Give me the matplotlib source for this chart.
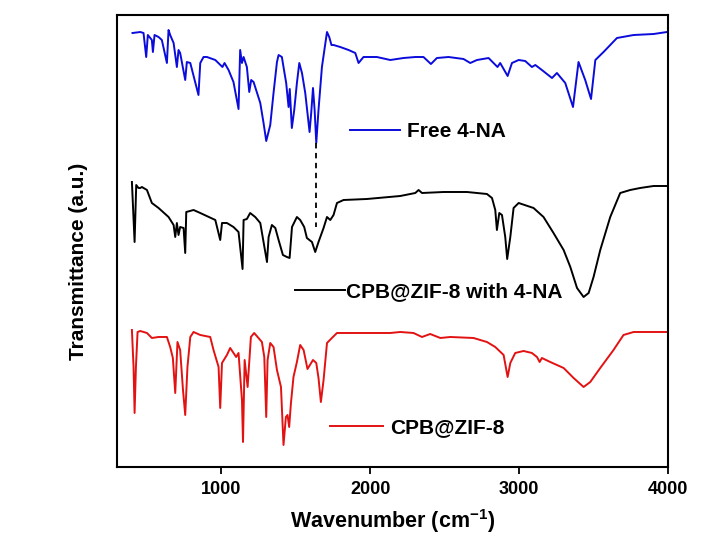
import matplotlib
matplotlib.use("Agg")
import matplotlib.pyplot as plt
from matplotlib.lines import Line2D

plt.rcParams['font.family'] = ['Liberation Sans', 'DejaVu Sans']
plt.rcParams['font.weight'] = 'bold'
plt.rcParams['mathtext.fontset'] = 'custom'
plt.rcParams['mathtext.rm'] = 'Liberation Sans:bold'
plt.rcParams['mathtext.bf'] = 'Liberation Sans:bold'
plt.rcParams['mathtext.it'] = 'Liberation Sans:bold'

# ---- data (wavenumber cm^-1, transmittance a.u.) ----
free_wn = [404, 456, 478, 496, 507, 534, 541, 552, 579, 601, 635, 646, 657, 680, 702, 713, 724, 758, 769, 792,
           847, 859, 881, 904, 960, 1008, 1022, 1049, 1082, 1116, 1127, 1139, 1150, 1172, 1188, 1201, 1217,
           1262, 1284, 1302, 1329, 1351,
           1374, 1385, 1407, 1418, 1436, 1452, 1460, 1474, 1490, 1508, 1524, 1542, 1564, 1593, 1604, 1616, 1627,
           1638, 1653, 1676, 1710, 1725, 1740, 1754, 1799, 1855, 1900, 1922, 1955, 2045, 2135, 2224, 2303, 2358,
           2408, 2448, 2526, 2627, 2672, 2717, 2795, 2855, 2873, 2923, 2952, 2997, 3041, 3086, 3109, 3153, 3221,
           3254, 3310, 3362, 3399, 3444, 3483, 3512, 3567, 3657, 3769, 3903, 3993]
free_t = [434, 435, 434, 410, 432, 427, 415, 432, 430, 427, 404, 437, 432, 424, 400, 417, 414, 387, 405, 404,
          372, 404, 410, 410, 407, 400, 404, 397, 385, 358, 417, 404, 410, 400, 375, 387, 385,
          364, 344, 326, 342, 374,
          405, 412, 410, 400, 384, 360, 378, 339, 357, 384, 404, 394, 374, 335, 354, 379, 357,
          324, 357, 400, 435, 430, 422, 422, 420, 417, 414, 404, 410, 410, 407, 409, 410, 410,
          403, 409, 410, 408, 404, 407, 409, 400, 404, 391, 404, 407, 406, 400, 402, 397, 389,
          394, 384, 360, 405, 387, 368, 407, 415, 429, 432, 433, 435]

with_wn = [400, 418, 429, 444, 456, 467, 501, 534, 579, 646, 680, 691, 702, 713, 724, 747, 758, 765, 814, 859,
           960, 993, 1005, 1038, 1082, 1116, 1143, 1150, 1172, 1194, 1228, 1262, 1307, 1318, 1340, 1363, 1385,
           1414, 1441, 1459, 1475, 1508, 1530, 1557, 1575, 1609, 1631, 1653, 1687, 1710, 1732, 1754, 1777, 1821,
           1978, 2202, 2303, 2325, 2348, 2493, 2650, 2784, 2818, 2840, 2851, 2867, 2885, 2907, 2920, 2941, 2963,
           2997, 3097, 3164, 3231, 3299, 3344, 3389, 3433, 3467, 3500, 3545, 3612, 3679, 3746, 3813, 3903, 3993]
with_t = [285, 225, 282, 279, 279, 280, 277, 264, 259, 250, 242, 230, 244, 232, 240, 239, 214, 255, 257, 254,
          247, 227, 244, 244, 240, 235, 198, 247, 248, 254, 250, 244, 205, 230, 242, 239, 227,
          212, 210, 209, 240, 250, 247, 240, 229, 225, 215, 225, 239, 250, 247, 252, 264, 267,
          268, 271, 274, 277, 274, 275, 275, 273, 269, 257, 237, 254, 252, 230, 208, 230, 259,
          264, 259, 250, 234, 217, 200, 179, 170, 174, 190, 217, 250, 274, 277, 279, 281, 281]

cpb_wn = [400, 411, 418, 427, 438, 456, 501, 534, 579, 635, 657, 675, 691, 706, 724, 743, 758, 773, 792, 814,
          859, 926, 948, 982, 993, 1005, 1038, 1060, 1100, 1116, 1139, 1146, 1157, 1177, 1199, 1221, 1250, 1273,
          1289, 1302, 1311, 1329, 1351, 1374, 1401, 1418, 1434, 1445, 1456, 1468, 1485, 1508, 1530, 1553, 1579,
          1616, 1638, 1653, 1669, 1687, 1710, 1743, 1777, 1978, 2135, 2202, 2291, 2348, 2403, 2471, 2538, 2694,
          2784, 2840, 2896, 2923, 2941, 2974, 3030, 3086, 3120, 3138, 3153, 3209, 3299, 3366, 3433, 3478, 3545,
          3634, 3701, 3769, 3903, 3993]
cpb_t = [137, 100, 54, 100, 135, 136, 134, 129, 130, 130, 120, 109, 74, 125, 117, 77, 52, 100, 130, 135,
         132, 130, 117, 100, 59, 104, 112, 119, 110, 114, 67, 25, 107, 80, 130, 134, 129, 125,
         110, 50, 107, 124, 120, 97, 80, 22, 50, 52, 40, 64, 90, 105, 122, 117, 98,
         107, 104, 89, 65, 87, 124, 129, 134, 134, 134, 135, 134, 130, 133, 129, 130, 129,
         125, 120, 112, 90, 104, 114, 116, 114, 110, 105, 109, 105, 99, 89, 80, 85, 99,
         117, 132, 135, 135, 135]

dash_wn = 1638
dash_t = [324, 240]

labels = ["Free 4-NA", "CPB@ZIF-8 with 4-NA", "CPB@ZIF-8"]
colors = ["#0b0bdc", "#000000", "#e31212"]
xticks = [1000, 2000, 3000, 4000]

fig = plt.figure(figsize=(7.25, 5.34), dpi=100)
ax = fig.add_axes([0.1614, 0.1255, 0.7600, 0.8464])

ax.plot(free_wn, free_t, color=colors[0], lw=1.4)
ax.plot(with_wn, with_t, color=colors[1], lw=1.4)
ax.plot(cpb_wn, cpb_t, color=colors[2], lw=1.4)
ax.plot([dash_wn, dash_wn], dash_t, color='black', lw=1.3, ls=(0, (3, 2.5)))

ax.set_xlim(300, 4000)
ax.set_ylim(0, 452)
ax.set_xticks(xticks)
ax.set_xticklabels([str(t) for t in xticks], fontsize=13, fontweight='bold')
ax.set_yticks([])
ax.tick_params(axis='x', direction='out', length=5, width=1.3, pad=5)
for s in ax.spines.values():
    s.set_linewidth(1.5)

ax.set_xlabel(r'Wavenumber (cm$^{\mathbf{-1}}$)', fontsize=15.5, fontweight='bold', labelpad=7)
ax.set_ylabel('Transmittance (a.u.)', fontsize=15, fontweight='bold')
ax.yaxis.set_label_coords(-0.053, 0.456)

# separate legend entries
specs = [
    (0, (0.4828, 0.7534), 2.4, 0.34),
    (1, (0.4069, 0.4537), 2.4, 0.05),
    (2, (0.4552, 0.1991), 2.55, 0.34),
]
for idx, anchor, hl, hp in specs:
    h = Line2D([], [], color=colors[idx], lw=1.4)
    leg = fig.legend([h], [labels[idx]], loc='center left', bbox_to_anchor=anchor,
                     bbox_transform=fig.transFigure, frameon=False, borderpad=0,
                     borderaxespad=0, handlelength=hl, handletextpad=hp,
                     prop={'family': 'Liberation Sans', 'weight': 'bold', 'size': 15})

fig.savefig("out.png", dpi=100)
